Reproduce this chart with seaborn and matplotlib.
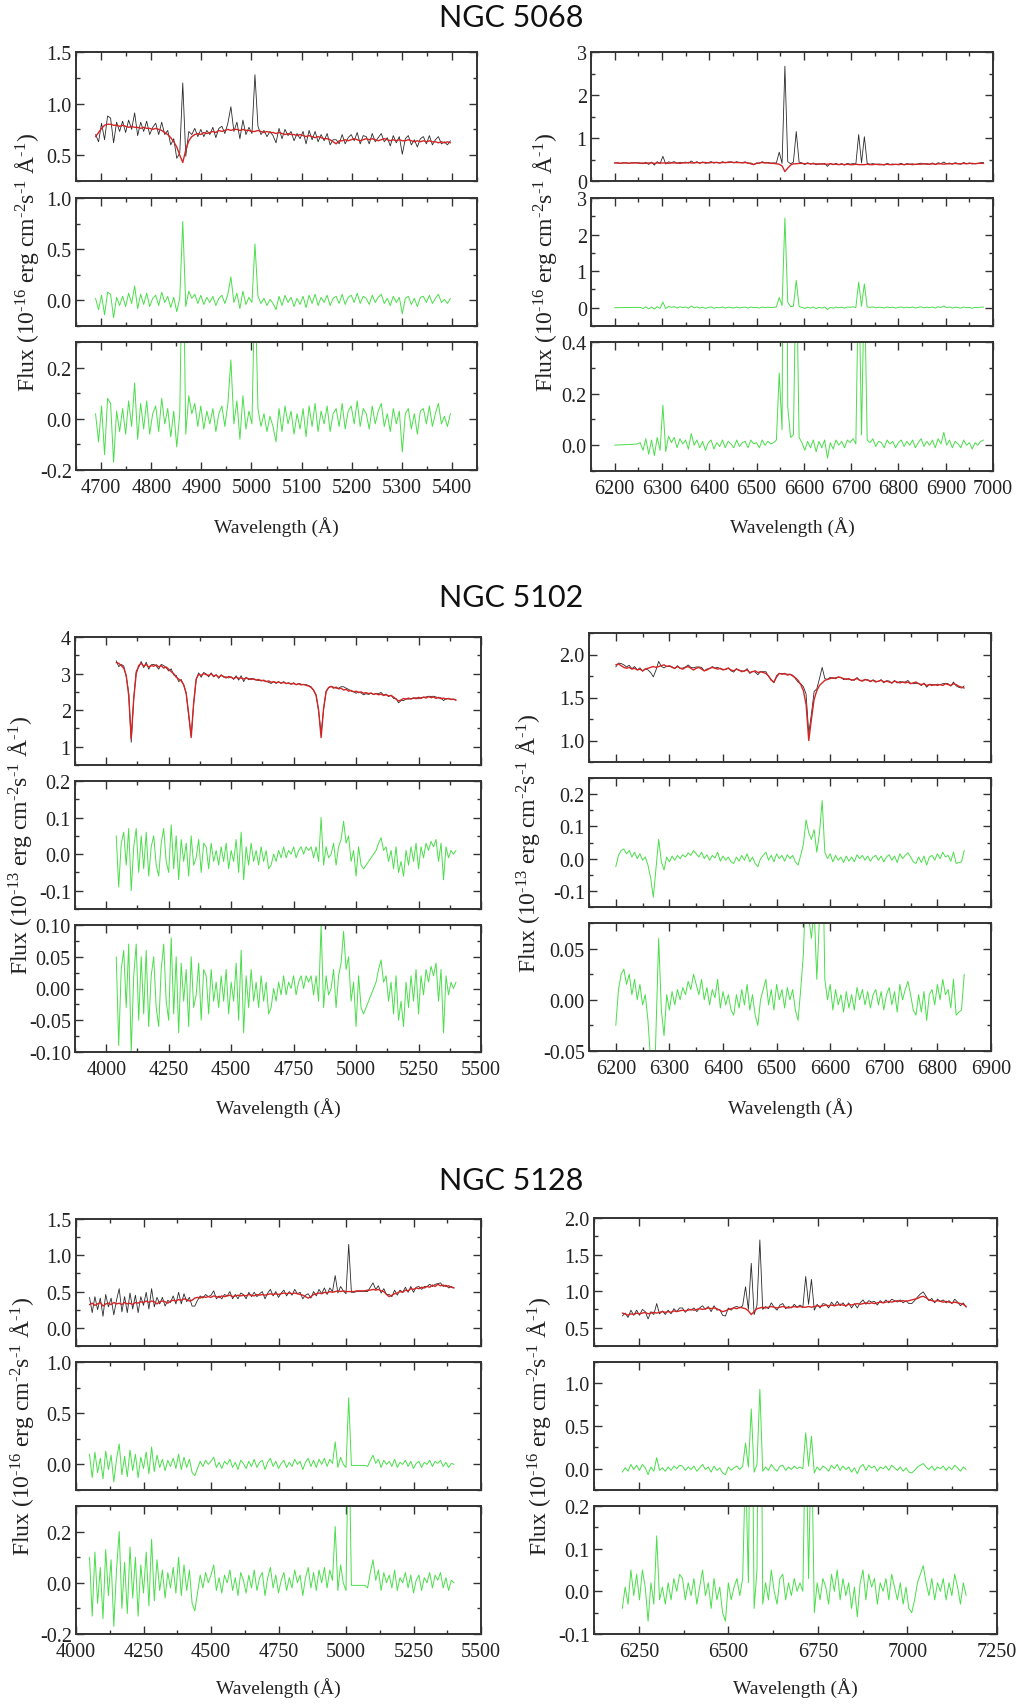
import numpy as np
import matplotlib
matplotlib.use("Agg")
import matplotlib.pyplot as plt
from matplotlib.ticker import MultipleLocator, FuncFormatter
import seaborn as sns

sns.set_style("ticks")
plt.rcParams.update({
    "font.family": ["Liberation Serif", "DejaVu Serif"],
    "mathtext.fontset": "custom",
    "mathtext.rm": "Liberation Serif",
    "mathtext.it": "Liberation Serif:italic",
    "mathtext.bf": "Liberation Serif:bold",
    "axes.unicode_minus": False,
    "figure.facecolor": "white",
    "axes.facecolor": "white",
})

# ---------------- data ----------------
# NGC 5068 blue
WL_5068_B = np.arange(4689, 5400, 6)
MODEL_5068_B = [
    0.68, 0.72, 0.76, 0.79, 0.80, 0.80, 0.79, 0.79, 0.78, 0.79,
    0.78, 0.77, 0.78, 0.77, 0.77, 0.76, 0.77, 0.76, 0.76, 0.75,
    0.76, 0.75, 0.74, 0.72, 0.70, 0.67, 0.63, 0.58, 0.50, 0.43,
    0.55, 0.64, 0.68, 0.70, 0.71, 0.70, 0.72, 0.71, 0.72, 0.73,
    0.72, 0.74, 0.73, 0.74, 0.75, 0.74, 0.75, 0.75, 0.74, 0.75,
    0.74, 0.74, 0.73, 0.73, 0.74, 0.73, 0.72, 0.73, 0.72, 0.72,
    0.71, 0.72, 0.71, 0.70, 0.71, 0.70, 0.70, 0.69, 0.70, 0.69,
    0.68, 0.69, 0.68, 0.67, 0.68, 0.67, 0.66, 0.66, 0.65, 0.63,
    0.61, 0.64, 0.64, 0.65, 0.64, 0.65, 0.66, 0.65, 0.64, 0.65,
    0.66, 0.65, 0.66, 0.65, 0.64, 0.65, 0.66, 0.65, 0.64, 0.65,
    0.64, 0.65, 0.64, 0.64, 0.65, 0.64, 0.63, 0.64, 0.63, 0.64,
    0.63, 0.64, 0.63, 0.63, 0.62, 0.63, 0.62, 0.63, 0.62]
RESID_5068_B = [
    0.02, -0.09, 0.05, -0.14, 0.08, 0.06, -0.17, 0.03, -0.05, 0.04,
    -0.06, 0.07, -0.03, 0.14, -0.08, 0.06, -0.04, 0.07, -0.06, 0.02,
    0.05, -0.05, 0.08, -0.02, 0.04, -0.07, 0.03, -0.11, 0.02, 0.77,
    -0.06, 0.09, 0.02, 0.06, -0.03, 0.05, -0.04, 0.03, -0.02, 0.04,
    -0.05, 0.02, 0.05, -0.03, 0.06, 0.23, -0.02, 0.07, -0.08, 0.09,
    -0.04, 0.03, -0.02, 0.55, 0.04, -0.03, 0.02, -0.05, 0.01, -0.03,
    -0.09, 0.04, -0.05, 0.05, -0.02, 0.03, -0.06, 0.02, -0.04, 0.04,
    -0.07, 0.05, -0.03, 0.06, -0.05, 0.03, -0.02, 0.05, -0.05, 0.02,
    0.04, -0.03, 0.06, -0.04, 0.03, 0.05, -0.02, 0.07, -0.03, 0.04,
    0.02, -0.04, 0.05, -0.02, 0.03, 0.06, -0.03, 0.02, -0.05, 0.04,
    -0.02, 0.03, -0.13, 0.02, 0.04, -0.04, 0.02, -0.06, 0.03, 0.04,
    -0.02, 0.05, -0.03, 0.02, 0.06, -0.02, 0.01, -0.03, 0.02]

# NGC 5068 red
WL_5068_R = np.arange(6200, 6981, 6)
MODEL_5068_R = [
    0.42, 0.42, 0.41, 0.42, 0.42, 0.41, 0.42, 0.42, 0.42, 0.41,
    0.42, 0.41, 0.42, 0.42, 0.41, 0.42, 0.42, 0.42, 0.42, 0.41,
    0.42, 0.42, 0.42, 0.41, 0.42, 0.42, 0.43, 0.42, 0.42, 0.43,
    0.42, 0.43, 0.43, 0.42, 0.43, 0.43, 0.43, 0.42, 0.43, 0.43,
    0.43, 0.44, 0.43, 0.43, 0.43, 0.42, 0.43, 0.42, 0.40, 0.38,
    0.41, 0.42, 0.43, 0.42, 0.42, 0.41, 0.41, 0.40, 0.39, 0.35,
    0.22, 0.30, 0.37, 0.40, 0.40, 0.41, 0.41, 0.40, 0.41, 0.40,
    0.40, 0.40, 0.39, 0.40, 0.39, 0.39, 0.40, 0.39, 0.39, 0.38,
    0.39, 0.38, 0.39, 0.38, 0.38, 0.39, 0.38, 0.38, 0.38, 0.39,
    0.38, 0.38, 0.39, 0.38, 0.38, 0.38, 0.39, 0.38, 0.38, 0.39,
    0.38, 0.39, 0.38, 0.39, 0.39, 0.38, 0.39, 0.39, 0.39, 0.40,
    0.39, 0.39, 0.40, 0.39, 0.40, 0.40, 0.39, 0.40, 0.40, 0.40,
    0.41, 0.40, 0.40, 0.41, 0.40, 0.41, 0.41, 0.40, 0.41, 0.41, 0.41]
RESID_5068_R = [
    0.000, 0.001, 0.001, 0.002, 0.002, 0.003, 0.003, 0.004, 0.005, 0.010,
    -0.02, 0.025, -0.035, 0.02, -0.04, 0.03, -0.02, 0.155, -0.025, 0.035,
    0.01, 0.03, -0.01, 0.025, 0.005, 0.02, -0.015, 0.045, 0.0, 0.02,
    -0.01, 0.015, -0.02, 0.01, 0.02, -0.015, 0.01, -0.005, 0.02, -0.01,
    0.015, 0.005, -0.01, 0.02, -0.005, 0.01, 0.015, -0.01, 0.02, 0.005,
    0.01, -0.01, 0.02, 0.0, 0.015, 0.005, 0.01, 0.02, 0.28, 0.06,
    2.45, 0.15, 0.03, 0.04, 0.75, 0.03, 0.01, -0.02, 0.015, -0.01,
    0.02, -0.025, 0.015, -0.01, 0.02, -0.05, 0.01, -0.015, 0.02, 0.0,
    0.015, -0.01, 0.02, 0.01, 0.025, 0.005, 0.70, 0.04, 0.65, 0.02,
    0.01, 0.025, -0.005, 0.015, 0.01, -0.01, 0.02, 0.005, 0.015, -0.01,
    0.01, 0.02, -0.005, 0.015, 0.0, 0.02, -0.01, 0.01, 0.025, -0.005,
    0.015, 0.0, 0.02, -0.01, 0.025, 0.005, 0.05, 0.0, 0.02, -0.01,
    0.015, 0.005, -0.01, 0.02, 0.0, 0.01, -0.015, 0.01, 0.0, 0.015, 0.02]

# NGC 5102 blue
WL_5102_B = np.arange(4040, 5401, 10)
MODEL_5102_B = [
    3.30, 3.28, 3.22, 3.15, 2.95, 2.40, 1.22, 2.30, 3.00, 3.22,
    3.28, 3.20, 3.25, 3.18, 3.22, 3.20, 3.24, 3.18, 3.22, 3.15,
    3.18, 3.12, 3.05, 3.00, 2.90, 2.85, 2.80, 2.70, 2.45, 1.90,
    1.25, 2.20, 2.85, 2.98, 2.95, 3.00, 2.97, 2.95, 2.99, 2.93,
    2.96, 2.90, 2.95, 2.92, 2.88, 2.92, 2.90, 2.86, 2.90, 2.87,
    2.88, 2.85, 2.88, 2.86, 2.84, 2.86, 2.82, 2.84, 2.80, 2.82,
    2.78, 2.80, 2.76, 2.78, 2.75, 2.77, 2.74, 2.76, 2.73, 2.74,
    2.71, 2.73, 2.70, 2.72, 2.69, 2.70, 2.68, 2.66, 2.62, 2.55,
    2.40, 2.00, 1.25, 2.05, 2.50, 2.62, 2.65, 2.60, 2.63, 2.58,
    2.60, 2.55, 2.57, 2.52, 2.54, 2.50, 2.52, 2.48, 2.50, 2.46,
    2.48, 2.45, 2.47, 2.43, 2.45, 2.42, 2.44, 2.40, 2.42, 2.39,
    2.40, 2.36, 2.30, 2.25, 2.28, 2.32, 2.30, 2.33, 2.30, 2.34,
    2.31, 2.35, 2.32, 2.36, 2.33, 2.37, 2.34, 2.36, 2.32, 2.35,
    2.31, 2.33, 2.30, 2.32, 2.29, 2.30, 2.27]
RESID_5102_B = [
    0.05, -0.09, 0.03, 0.06, -0.03, 0.07, -0.10, 0.02, 0.07, -0.05,
    0.05, -0.04, 0.06, -0.06, 0.02, 0.05, -0.03, -0.06, 0.03, 0.07,
    -0.02, -0.05, 0.08, -0.04, 0.05, -0.07, 0.04, -0.02, 0.03, -0.06,
    0.05, -0.03, -0.01, 0.04, -0.05, 0.03, 0.02, -0.04, 0.03, -0.02,
    0.01, -0.03, 0.02, -0.02, 0.03, -0.04, 0.01, -0.02, 0.04, -0.05,
    0.06, -0.07, 0.02, -0.03, 0.03, -0.02, 0.01, -0.03, 0.02, -0.02,
    0.01, -0.04, -0.03, 0.00, -0.02, 0.01, -0.01, 0.02, -0.01, 0.01,
    0.00, 0.02, -0.01, 0.01, 0.02, 0.00, 0.02, 0.01, 0.02, -0.01,
    0.02, -0.02, 0.10, -0.03, 0.02, -0.01, 0.00, 0.03, -0.03, 0.02,
    0.04, 0.09, 0.03, 0.05, -0.02, 0.01, -0.06, 0.02, -0.03, -0.04,
    -0.03, -0.02, -0.01, 0.00, 0.01, 0.03, 0.045, 0.01, 0.02, -0.02,
    0.01, -0.04, 0.02, -0.05, -0.02, -0.06, 0.01, -0.03, 0.02, -0.02,
    0.03, -0.04, 0.02, -0.01, 0.03, 0.01, 0.035, 0.02, 0.04, -0.02,
    0.03, -0.07, 0.02, -0.01, 0.01, 0.00, 0.01]

# NGC 5102 red
WL_5102_R = np.arange(6200, 6851, 5)
MODEL_5102_R = [
    1.88, 1.89, 1.87, 1.85, 1.84, 1.85, 1.83, 1.84, 1.82, 1.83,
    1.81, 1.83, 1.84, 1.85, 1.86, 1.85, 1.86, 1.87, 1.88, 1.86,
    1.87, 1.85, 1.84, 1.86, 1.84, 1.83, 1.85, 1.86, 1.84, 1.82,
    1.84, 1.85, 1.83, 1.81, 1.82, 1.84, 1.85, 1.84, 1.83, 1.84,
    1.82, 1.83, 1.84, 1.82, 1.81, 1.83, 1.82, 1.80, 1.81, 1.82,
    1.79, 1.80, 1.81, 1.79, 1.80, 1.79, 1.78, 1.75, 1.70, 1.68,
    1.74, 1.78, 1.77, 1.78, 1.76, 1.77, 1.75, 1.73, 1.70, 1.65,
    1.58, 1.42, 1.00, 1.25, 1.48, 1.58, 1.64, 1.67, 1.70, 1.71,
    1.72, 1.73, 1.72, 1.74, 1.73, 1.72, 1.71, 1.72, 1.70, 1.71,
    1.72, 1.70, 1.69, 1.71, 1.70, 1.69, 1.70, 1.68, 1.69, 1.70,
    1.68, 1.69, 1.68, 1.67, 1.69, 1.68, 1.67, 1.68, 1.67, 1.68,
    1.66, 1.67, 1.68, 1.66, 1.65, 1.66, 1.64, 1.65, 1.64, 1.65,
    1.64, 1.65, 1.64, 1.66, 1.65, 1.64, 1.66, 1.65, 1.63, 1.62,
    1.61]
RESID_5102_R = [
    -0.025, 0.010, 0.025, 0.030, 0.015, 0.025, 0.005, 0.020, 0.000, 0.015,
    -0.005, 0.005, -0.020, -0.060, -0.120, -0.030, 0.060, -0.010, -0.035, 0.005,
    -0.010, 0.008, -0.005, 0.010, 0.000, 0.012, 0.005, 0.018, 0.010, 0.025,
    0.015, 0.005, 0.020, 0.000, 0.012, -0.005, 0.010, 0.002, 0.020, -0.008,
    0.008, -0.005, 0.005, -0.010, -0.015, 0.005, -0.008, 0.010, -0.005, 0.015,
    -0.010, 0.005, -0.015, -0.025, 0.000, 0.010, 0.020, -0.005, 0.010, -0.010,
    0.015, 0.000, 0.010, -0.008, 0.012, 0.000, 0.010, -0.010, -0.020, 0.010,
    0.045, 0.120, 0.080, 0.060, 0.090, 0.020, 0.080, 0.180, 0.020, 0.000,
    0.015, -0.010, 0.010, -0.005, 0.005, -0.012, 0.008, -0.008, 0.005, -0.010,
    0.012, 0.000, 0.010, -0.005, 0.008, -0.008, 0.005, 0.010, -0.005, 0.008,
    -0.010, 0.005, 0.012, -0.005, 0.008, -0.012, 0.015, 0.000, 0.010, 0.018,
    0.005, -0.010, -0.015, 0.005, -0.012, 0.008, -0.020, 0.005, 0.010, -0.005,
    0.015, 0.000, 0.020, 0.005, 0.010, -0.008, 0.020, -0.015, -0.012, -0.010,
    0.025]

# NGC 5128 blue
WL_5128_B = np.arange(4050, 5401, 10)
MODEL_5128_B = [
    0.32, 0.34, 0.31, 0.33, 0.35, 0.30, 0.33, 0.34, 0.32, 0.35,
    0.33, 0.34, 0.32, 0.35, 0.33, 0.34, 0.32, 0.35, 0.34, 0.36,
    0.35, 0.37, 0.35, 0.37, 0.36, 0.33, 0.36, 0.37, 0.36, 0.34,
    0.37, 0.38, 0.37, 0.39, 0.38, 0.40, 0.39, 0.37, 0.38, 0.41,
    0.42, 0.41, 0.43, 0.42, 0.43, 0.42, 0.44, 0.43, 0.42, 0.44,
    0.43, 0.44, 0.45, 0.43, 0.44, 0.45, 0.44, 0.45, 0.44, 0.46,
    0.45, 0.44, 0.46, 0.45, 0.46, 0.45, 0.46, 0.47, 0.46, 0.47,
    0.46, 0.47, 0.48, 0.47, 0.48, 0.47, 0.48, 0.47, 0.46, 0.45,
    0.43, 0.41, 0.43, 0.46, 0.47, 0.48, 0.47, 0.49, 0.48, 0.50,
    0.49, 0.50, 0.51, 0.50, 0.51, 0.50, 0.50, 0.50, 0.50, 0.51,
    0.51, 0.51, 0.51, 0.52, 0.52, 0.53, 0.52, 0.53, 0.51, 0.50,
    0.46, 0.43, 0.45, 0.47, 0.48, 0.50, 0.49, 0.52, 0.51, 0.54,
    0.53, 0.55, 0.54, 0.56, 0.55, 0.57, 0.56, 0.59, 0.57, 0.60,
    0.58, 0.59, 0.57, 0.58, 0.56, 0.55]
RESID_5128_B = [
    0.10, -0.13, 0.12, -0.08, 0.06, -0.14, 0.13, -0.05, 0.09, -0.17,
    0.05, 0.20, -0.10, 0.08, -0.12, 0.14, -0.06, 0.10, -0.13, 0.07,
    -0.04, 0.12, -0.09, 0.17, -0.07, 0.09, -0.03, 0.05, -0.06, 0.04,
    -0.02, 0.06, -0.04, 0.10, -0.05, 0.07, -0.03, 0.05, -0.08, -0.11,
    -0.04, 0.03, -0.02, 0.04, 0.00, 0.03, 0.07, -0.03, 0.02, -0.04,
    0.03, 0.00, 0.05, -0.03, 0.02, -0.05, 0.04, 0.01, -0.04, 0.03,
    -0.02, 0.05, -0.03, 0.02, 0.04, -0.05, 0.02, 0.06, -0.02, 0.03,
    -0.04, 0.01, 0.04, -0.03, 0.02, -0.02, 0.05, 0.00, 0.03, -0.05,
    0.02, 0.06, -0.02, 0.04, -0.03, 0.05, 0.00, 0.06, -0.02, 0.05,
    0.01, 0.22, -0.03, 0.07, 0.00, -0.03, 0.65, -0.01, -0.01, -0.01,
    -0.01, -0.01, -0.01, -0.02, 0.04, 0.09, 0.01, 0.05, -0.03, 0.04,
    0.00, 0.03, -0.02, 0.05, -0.03, 0.02, 0.00, 0.04, -0.02, 0.03,
    -0.04, 0.01, 0.03, -0.03, 0.02, 0.00, 0.04, -0.02, 0.03, 0.01,
    0.04, -0.02, 0.02, -0.03, 0.01, 0.00]

# NGC 5128 red
WL_5128_R = np.arange(6204, 7165, 8)
MODEL_5128_R = [
    0.70, 0.69, 0.67, 0.69, 0.68, 0.70, 0.69, 0.70, 0.71, 0.69,
    0.70, 0.71, 0.70, 0.71, 0.72, 0.71, 0.72, 0.71, 0.73, 0.72,
    0.73, 0.74, 0.73, 0.74, 0.75, 0.74, 0.75, 0.76, 0.75, 0.76,
    0.77, 0.76, 0.77, 0.76, 0.74, 0.72, 0.73, 0.75, 0.76, 0.77,
    0.76, 0.78, 0.77, 0.76, 0.73, 0.68, 0.72, 0.76, 0.77, 0.78,
    0.77, 0.78, 0.79, 0.78, 0.77, 0.78, 0.79, 0.78, 0.77, 0.78,
    0.79, 0.78, 0.79, 0.78, 0.78, 0.79, 0.78, 0.79, 0.80, 0.79,
    0.80, 0.81, 0.80, 0.81, 0.80, 0.81, 0.82, 0.81, 0.80, 0.82,
    0.81, 0.82, 0.83, 0.82, 0.83, 0.84, 0.83, 0.84, 0.83, 0.84,
    0.85, 0.84, 0.85, 0.86, 0.85, 0.86, 0.87, 0.86, 0.87, 0.86,
    0.87, 0.88, 0.89, 0.90, 0.92, 0.93, 0.91, 0.88, 0.87, 0.86,
    0.87, 0.86, 0.85, 0.86, 0.85, 0.84, 0.85, 0.84, 0.83, 0.82,
    0.79]
RESID_5128_R = [
    -0.04, 0.01, -0.03, 0.05, -0.01, 0.04, -0.02, 0.05, 0.01, -0.07,
    0.02, -0.03, 0.13, -0.02, 0.01, -0.03, 0.02, -0.02, 0.03, 0.00,
    0.04, 0.03, -0.02, 0.02, -0.01, 0.03, -0.03, 0.01, 0.05, -0.01,
    0.02, -0.04, 0.03, -0.02, 0.01, -0.05, -0.07, 0.02, -0.02, 0.01,
    0.03, -0.01, 0.03, 0.30, 0.02, 0.70, -0.04, 0.05, 0.93, -0.03,
    0.02, -0.02, 0.05, 0.00, -0.03, 0.03, 0.04, -0.02, 0.02, -0.01,
    0.03, 0.00, 0.02, 0.00, 0.42, 0.03, 0.38, -0.05, 0.02, -0.02,
    0.03, 0.01, -0.03, 0.04, 0.00, 0.05, -0.02, 0.03, -0.01, 0.02,
    -0.04, 0.01, -0.06, 0.02, 0.05, -0.02, 0.04, 0.01, 0.03, -0.03,
    0.02, 0.00, 0.03, -0.02, 0.04, 0.01, -0.02, 0.02, -0.03, 0.01,
    -0.04, -0.05, -0.02, 0.02, 0.04, 0.06, 0.02, -0.01, 0.03, -0.02,
    0.02, 0.00, 0.03, -0.02, 0.02, -0.01, 0.04, 0.01, -0.03, 0.02,
    -0.01]

GALAXIES = ["NGC 5068", "NGC 5102", "NGC 5128"]
YLABELS = [r"Flux (10$^{\text{-}16}$ erg cm$^{\text{-}2}$s$^{\text{-}1}$ Å$^{\text{-}1}$)",
           r"Flux (10$^{\text{-}13}$ erg cm$^{\text{-}2}$s$^{\text{-}1}$ Å$^{\text{-}1}$)",
           r"Flux (10$^{\text{-}16}$ erg cm$^{\text{-}2}$s$^{\text{-}1}$ Å$^{\text{-}1}$)"]
XLABEL = "Wavelength (Å)"

# ---------------- layout ----------------
W, H = 1022, 1706
fig = plt.figure(figsize=(W / 100, H / 100), dpi=100)

C_OBS = "#2a2a2a"
C_MOD = "#d42525"
C_RES = "#4ade4a"
C_AX = "#333333"


def add_panel(x0, y0, x1, y1):
    return fig.add_axes([x0 / W, 1 - y1 / H, (x1 - x0) / W, (y1 - y0) / H])


def make_fmt(fmt):
    def f(v, pos):
        if abs(v) < 1e-9:
            v = 0.0
        return fmt % v
    return FuncFormatter(f)


def style(ax, xlim, xmaj, xmin, ylim, ymaj, ymin, yfmt, show_x):
    ax.set_xlim(*xlim)
    ax.set_ylim(*ylim)
    ax.xaxis.set_major_locator(MultipleLocator(xmaj))
    ax.xaxis.set_minor_locator(MultipleLocator(xmin))
    ax.yaxis.set_major_locator(MultipleLocator(ymaj))
    ax.yaxis.set_minor_locator(MultipleLocator(ymin))
    ax.xaxis.set_major_formatter(make_fmt("%d"))
    ax.yaxis.set_major_formatter(make_fmt(yfmt))
    ax.tick_params(which="both", direction="in", top=True, right=True,
                   color=C_AX, width=1.0, labelcolor="#222222", labelsize=14.5)
    ax.tick_params(which="major", length=6)
    ax.tick_params(which="minor", length=3)
    ax.tick_params(axis="x", labelbottom=show_x, pad=6)
    ax.tick_params(axis="y", pad=3)
    for s in ax.spines.values():
        s.set_linewidth(1.4)
        s.set_color(C_AX)
    ax.set_xlabel("")
    ax.set_ylabel("")


# each column spec: x-range, panel boxes, y settings, data
ROWS = [
    dict(title_y=18, xlab_y=527,
         cols=[
             dict(x=(76, 477), ys=[(53, 182), (199, 327), (343, 471)], ylab_x=27,
                  xlim=(4650, 5450), xmaj=100, xmin=50,
                  yset=[((0.25, 1.5), 0.5, 0.25, "%.1f"), ((-0.25, 1.0), 0.5, 0.25, "%.1f"),
                        ((-0.2, 0.3), 0.2, 0.1, "%.1f")],
                  wl=WL_5068_B, model=MODEL_5068_B, resid=RESID_5068_B),
             dict(x=(591, 993), ys=[(53, 182), (199, 327), (343, 472)], ylab_x=545,
                  xlim=(6150, 7000), xmaj=100, xmin=50,
                  yset=[((0, 3), 1, 0.5, "%d"), ((-0.5, 3), 1, 0.5, "%d"),
                        ((-0.1, 0.4), 0.2, 0.1, "%.1f")],
                  wl=WL_5068_R, model=MODEL_5068_R, resid=RESID_5068_R),
         ]),
    dict(title_y=598, xlab_y=1108,
         cols=[
             dict(x=(75, 481), ys=[(638, 766), (782, 910), (926, 1053)], ylab_x=20,
                  xlim=(3875, 5500), xmaj=250, xmin=125,
                  yset=[((0.5, 4), 1, 0.5, "%d"), ((-0.15, 0.2), 0.1, 0.05, "%.1f"),
                        ((-0.1, 0.1), 0.05, 0.025, "%.2f")],
                  wl=WL_5102_B, model=MODEL_5102_B, resid=RESID_5102_B),
             dict(x=(589, 991), ys=[(634, 763), (779, 908), (924, 1052)], ylab_x=528,
                  xlim=(6150, 6900), xmaj=100, xmin=50,
                  yset=[((0.75, 2.25), 0.5, 0.25, "%.1f"), ((-0.15, 0.25), 0.1, 0.05, "%.1f"),
                        ((-0.05, 0.075), 0.05, 0.025, "%.2f")],
                  wl=WL_5102_R, model=MODEL_5102_R, resid=RESID_5102_R),
         ]),
    dict(title_y=1181, xlab_y=1688,
         cols=[
             dict(x=(76, 481), ys=[(1220, 1347), (1363, 1491), (1507, 1635)], ylab_x=22,
                  xlim=(4000, 5500), xmaj=250, xmin=125,
                  yset=[((-0.25, 1.5), 0.5, 0.25, "%.1f"), ((-0.25, 1.0), 0.5, 0.25, "%.1f"),
                        ((-0.2, 0.3), 0.2, 0.1, "%.1f")],
                  wl=WL_5128_B, model=MODEL_5128_B, resid=RESID_5128_B),
             dict(x=(594, 997), ys=[(1219, 1347), (1363, 1491), (1507, 1635)], ylab_x=539,
                  xlim=(6125, 7250), xmaj=250, xmin=125,
                  yset=[((0.25, 2.0), 0.5, 0.25, "%.1f"), ((-0.25, 1.25), 0.5, 0.25, "%.1f"),
                        ((-0.1, 0.2), 0.1, 0.05, "%.1f")],
                  wl=WL_5128_R, model=MODEL_5128_R, resid=RESID_5128_R),
         ]),
]

for gi, row in enumerate(ROWS):
    fig.text(0.5, 1 - row["title_y"] / H, GALAXIES[gi], ha="center", va="center",
             fontsize=22, family=["Lato", "DejaVu Sans"], color="#111111")
    for col in row["cols"]:
        wl = np.asarray(col["wl"])
        model = np.asarray(col["model"], dtype=float)
        resid = np.asarray(col["resid"], dtype=float)
        assert len(wl) == len(model) == len(resid), (len(wl), len(model), len(resid))
        obs = model + resid
        x0, x1 = col["x"]
        for pi, (y0, y1) in enumerate(col["ys"]):
            ax = add_panel(x0, y0, x1, y1)
            if pi == 0:
                sns.lineplot(x=wl, y=obs, ax=ax, color=C_OBS, lw=0.6, estimator=None)
                sns.lineplot(x=wl, y=model, ax=ax, color=C_MOD, lw=1.0, estimator=None)
            else:
                sns.lineplot(x=wl, y=resid, ax=ax, color=C_RES, lw=0.7, estimator=None)
            ylim, ymaj, ymin, yfmt = col["yset"][pi]
            style(ax, col["xlim"], col["xmaj"], col["xmin"], ylim, ymaj, ymin, yfmt, pi == 2)
        # labels
        mid = col["ys"][1]
        fig.text(col["ylab_x"] / W, 1 - (mid[0] + mid[1]) / 2 / H, YLABELS[gi],
                 rotation=90, ha="center", va="center", fontsize=17, color="#222222")
        fig.text((x0 + x1) / 2 / W, 1 - row["xlab_y"] / H, XLABEL,
                 ha="center", va="center", fontsize=14, color="#222222")

fig.savefig("out.png", dpi=100, facecolor="white")
